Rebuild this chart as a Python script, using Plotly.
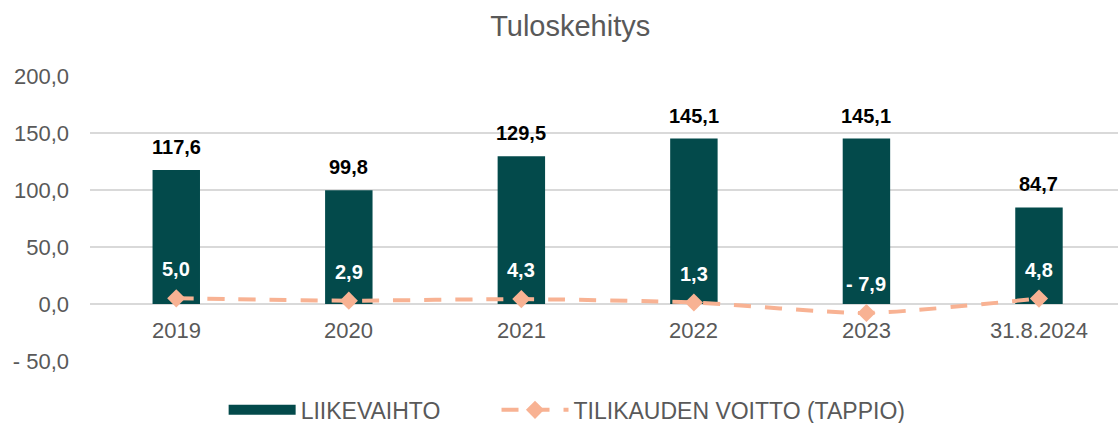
import plotly.graph_objects as go

categories = ["2019", "2020", "2021", "2022", "2023", "31.8.2024"]
liikevaihto = [117.6, 99.8, 129.5, 145.1, 145.1, 84.7]
voitto = [5.0, 2.9, 4.3, 1.3, -7.9, 4.8]
y_ticks = [-50, 0, 50, 100, 150, 200]


def fmt(v):
    s = f"{abs(v):.1f}".replace(".", ",")
    return ("- " + s) if v < 0 else s


FONT = "Liberation Sans, Arial, sans-serif"
GREY = "#595959"
BAR = "#034A4B"
LINE = "#F8B293"

fig = go.Figure()
fig.add_trace(go.Bar(
    x=categories, y=liikevaihto, name="LIIKEVAIHTO",
    marker=dict(color=BAR, line=dict(width=0)),
    width=0.275, showlegend=False, legendgroup="lv",
))
# legend entry for bars (wide rectangle like the original)
fig.add_trace(go.Scatter(
    x=[None], y=[None], name="LIIKEVAIHTO" + "\u00a0" * 8, mode="lines",
    line=dict(color=BAR, width=13), legendgroup="lv", showlegend=True,
))
fig.add_trace(go.Scatter(
    x=categories, y=voitto, name="TILIKAUDEN VOITTO (TAPPIO)",
    mode="lines+markers",
    line=dict(color=LINE, width=4, dash="17px,14px", shape="spline", smoothing=0.6),
    marker=dict(symbol="diamond", size=14, color=LINE),
    cliponaxis=False,
))

annotations = []
for i, v in enumerate(liikevaihto):
    annotations.append(dict(
        x=i, y=v, xref="x", yref="y", text="<b>" + fmt(v) + "</b>",
        showarrow=False, yshift=23,
        font=dict(family=FONT, size=20, color="#000000"),
    ))
for i, v in enumerate(voitto):
    annotations.append(dict(
        x=i, y=v, xref="x", yref="y", text="<b>" + fmt(v) + "</b>",
        showarrow=False, yshift=29,
        font=dict(family=FONT, size=20, color="#FFFFFF"),
    ))
for i, c in enumerate(categories):
    annotations.append(dict(
        x=i, y=0, xref="x", yref="y", text=c, showarrow=False, yshift=-26,
        font=dict(family=FONT, size=22, color=GREY),
    ))

fig.update_layout(
    width=1118, height=423,
    margin=dict(l=90, r=0, t=76, b=62, autoexpand=False),
    paper_bgcolor="white", plot_bgcolor="white",
    title=dict(text="Tuloskehitys", x=0.51, xanchor="center", y=0.94, yanchor="middle",
               font=dict(family=FONT, size=29, color=GREY)),
    font=dict(family=FONT, size=22, color=GREY),
    showlegend=True,
    legend=dict(orientation="h", x=0.13, xanchor="left",
                yref="container", y=0.031, yanchor="middle",
                font=dict(family=FONT, size=23, color=GREY),
                itemwidth=67,
                traceorder="normal", bgcolor="rgba(0,0,0,0)"),
    annotations=annotations,
)
fig.update_xaxes(type="category", range=[-0.5, 5.458], showticklabels=False, showgrid=False,
                 zeroline=False, showline=False, ticks="")
fig.update_yaxes(range=[-50, 200], tickvals=y_ticks, ticktext=[fmt(v) for v in y_ticks],
                 showgrid=True, gridcolor="#D9D9D9", gridwidth=1.5,
                 zeroline=True, zerolinecolor="#D9D9D9", zerolinewidth=1.5,
                 tickfont=dict(family=FONT, size=22, color=GREY), ticks="",
                 ticklabelstandoff=20)

fig.write_html("out.html", config={"displayModeBar": False},
               post_script="document.body.style.margin='0';")
